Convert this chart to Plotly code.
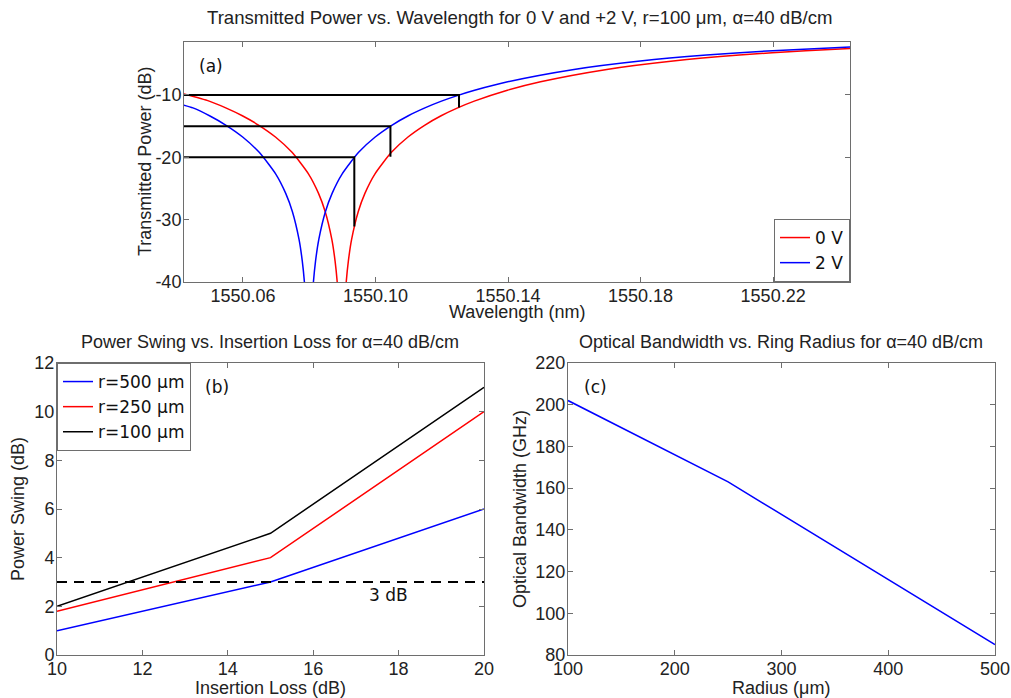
import plotly.graph_objects as go

W, H = 1011, 698

# ---------------- data (a) ----------------
red_wl = [1550.0418, 1550.0498, 1550.0548, 1550.0598, 1550.0648, 1550.0698, 1550.0748,
          1550.0798, 1550.0828, 1550.0848, 1550.0868, 1550.0878, 1550.0885, 1550.0890,
          1550.0906, 1550.0911, 1550.0918, 1550.0928, 1550.0948, 1550.0968, 1550.0998,
          1550.1048, 1550.1098, 1550.1148, 1550.1198, 1550.1248, 1550.1298, 1550.1398,
          1550.1498, 1550.1698, 1550.1898, 1550.2098, 1550.2298, 1550.2448]
red_db = [-9.80, -10.99, -12.07, -13.33, -14.86, -16.74, -19.20, -22.69, -25.78, -28.69,
          -33.13, -36.65, -40.39, -44.61, -44.61, -40.39, -36.65, -33.13, -28.69, -25.78,
          -22.69, -19.20, -16.74, -14.86, -13.33, -12.07, -10.99, -9.24, -7.88, -5.90,
          -4.55, -3.59, -2.89, -2.48]
blue_wl = [1550.0419, 1550.0449, 1550.0499, 1550.0549, 1550.0599, 1550.0649, 1550.0699,
           1550.0729, 1550.0749, 1550.0769, 1550.0779, 1550.0786, 1550.0791, 1550.0807,
           1550.0812, 1550.0819, 1550.0829, 1550.0849, 1550.0869, 1550.0899, 1550.0949,
           1550.0999, 1550.1049, 1550.1099, 1550.1149, 1550.1199, 1550.1249, 1550.1299,
           1550.1399, 1550.1599, 1550.1799, 1550.1999, 1550.2199, 1550.2449]
blue_db = [-11.60, -12.07, -13.33, -14.86, -16.74, -19.20, -22.69, -25.78, -28.69, -33.13,
           -36.65, -40.39, -44.61, -44.61, -40.39, -36.65, -33.13, -28.69, -25.78, -22.69,
           -19.20, -16.74, -14.86, -13.33, -12.07, -10.99, -10.06, -9.24, -7.88, -5.90,
           -4.55, -3.59, -2.89, -2.25]
levels_db = [-10, -15, -20]
cross_wl = [1550.1252, 1550.1045, 1550.0936]
red_at_cross_db = [-12.0, -19.9, -31.1]
xa_range = [1550.0422, 1550.2432]
ya_range = [-40, -1.5]
xa_ticks = [1550.06, 1550.10, 1550.14, 1550.18, 1550.22]
xa_ticktext = ["1550.06", "1550.10", "1550.14", "1550.18", "1550.22"]
ya_ticks = [-40, -30, -20, -10]
ya_ticktext = ["-40", "-30", "-20", "-10"]

# ---------------- data (b) ----------------
insertion_loss = [10, 15, 20]
swing_r500 = [1.0, 3.0, 6.0]
swing_r250 = [1.8, 4.0, 10.0]
swing_r100 = [2.0, 5.0, 11.0]
swing_3db = 3

# ---------------- data (c) ----------------
radius_um = [100, 250, 500]
bandwidth_ghz = [202, 163, 85]


def px(x):
    return x / W


def py(y):
    return 1 - y / H


TICKF = dict(family="Liberation Sans, Arial, sans-serif", size=18, color="#222222")
LABF = dict(family="Liberation Sans, Arial, sans-serif", size=18, color="#222222")
TITF = dict(family="Liberation Sans, Arial, sans-serif", size=18.6, color="#222222")
TAHF = dict(family="DejaVu Sans, Tahoma, sans-serif", size=17, color="#111111")

fig = go.Figure()

# (a) curves
fig.add_trace(go.Scatter(x=red_wl, y=red_db, mode="lines", name="0 V",
                         line=dict(color="#ff0000", width=1.5, shape="spline", smoothing=0.6),
                         xaxis="x", yaxis="y", legend="legend"))
fig.add_trace(go.Scatter(x=blue_wl, y=blue_db, mode="lines", name="2 V",
                         line=dict(color="#0000ff", width=1.5, shape="spline", smoothing=0.6),
                         xaxis="x", yaxis="y", legend="legend"))
bx, by = [], []
for lv, cw, rd in zip(levels_db, cross_wl, red_at_cross_db):
    bx += [xa_range[0], cw, cw, None]
    by += [lv, lv, rd, None]
fig.add_trace(go.Scatter(x=bx, y=by, mode="lines", showlegend=False,
                         line=dict(color="#000000", width=2),
                         xaxis="x", yaxis="y"))

# (b)
fig.add_trace(go.Scatter(x=insertion_loss, y=swing_r500, mode="lines", name="r=500 \u03bcm",
                         line=dict(color="#0000ff", width=1.5), xaxis="x2", yaxis="y2",
                         legend="legend2"))
fig.add_trace(go.Scatter(x=insertion_loss, y=swing_r250, mode="lines", name="r=250 \u03bcm",
                         line=dict(color="#ff0000", width=1.5), xaxis="x2", yaxis="y2",
                         legend="legend2"))
fig.add_trace(go.Scatter(x=insertion_loss, y=swing_r100, mode="lines", name="r=100 \u03bcm",
                         line=dict(color="#000000", width=1.5), xaxis="x2", yaxis="y2",
                         legend="legend2"))
fig.add_trace(go.Scatter(x=[insertion_loss[0], insertion_loss[-1]], y=[swing_3db, swing_3db],
                         mode="lines", showlegend=False,
                         line=dict(color="#000000", width=2, dash="10px,7px"),
                         xaxis="x2", yaxis="y2"))

# (c)
fig.add_trace(go.Scatter(x=radius_um, y=bandwidth_ghz, mode="lines", showlegend=False,
                         line=dict(color="#0000ff", width=1.5), xaxis="x3", yaxis="y3"))


def axis(domain, rng, tickvals, ticktext=None, anchor=None, standoff=0):
    d = dict(domain=domain, range=rng, tickvals=tickvals, showgrid=False, zeroline=False,
             showline=True, mirror="ticks", linecolor="#6e6e6e", linewidth=1,
             ticks="inside", ticklen=5, tickcolor="#6e6e6e", tickfont=TICKF,
             anchor=anchor, fixedrange=True, automargin=False,
             ticklabelstandoff=standoff)
    if ticktext is not None:
        d["ticktext"] = ticktext
    return d


xa_dom = [px(184), px(850)]
ya_dom = [py(282), py(42)]
xb_dom = [px(57), px(484)]
yb_dom = [py(655), py(363)]
xc_dom = [px(568), px(995)]
yc_dom = [py(655), py(363)]

fig.update_layout(
    width=W, height=H,
    margin=dict(l=0, r=0, t=0, b=0, autoexpand=False),
    paper_bgcolor="white", plot_bgcolor="white",
    xaxis=axis(xa_dom, xa_range, xa_ticks, xa_ticktext, "y", -3),
    yaxis=axis(ya_dom, ya_range, ya_ticks, ya_ticktext, "x", -2),
    xaxis2=axis(xb_dom, [10, 20], [10, 12, 14, 16, 18, 20], None, "y2", -3),
    yaxis2=axis(yb_dom, [0, 12], [0, 2, 4, 6, 8, 10, 12], None, "x2", -2),
    xaxis3=axis(xc_dom, [100, 500], [100, 200, 300, 400, 500], None, "y3", -3),
    yaxis3=axis(yc_dom, [80, 220], [80, 100, 120, 140, 160, 180, 200, 220], None, "x3", -2),
    legend=dict(x=px(850), y=py(282), xanchor="right", yanchor="bottom",
                bgcolor="white", bordercolor="#6e6e6e", borderwidth=1,
                font=TAHF, itemwidth=30, tracegroupgap=0),
    legend2=dict(x=px(57), y=py(363), xanchor="left", yanchor="top",
                 bgcolor="white", bordercolor="#6e6e6e", borderwidth=1,
                 font=TAHF, itemwidth=30, tracegroupgap=0),
    showlegend=True,
)

ann = []


def text(x, y, s, font, angle=0):
    ann.append(dict(x=px(x), y=py(y), xref="paper", yref="paper", text=s, showarrow=False,
                    font=font, textangle=angle, xanchor="center", yanchor="middle"))


text(520, 18, "Transmitted Power vs. Wavelength for 0 V and +2 V, r=100 \u03bcm, \u03b1=40 dB/cm", TITF)
text(517, 312, "Wavelength (nm)", LABF)
text(145, 162, "Transmitted Power (dB)", LABF, -90)
text(211, 66, "(a)", TAHF)

text(270, 342, "Power Swing vs. Insertion Loss for \u03b1=40 dB/cm", LABF)
text(270, 688, "Insertion Loss (dB)", LABF)
text(18, 509, "Power Swing (dB)", LABF, -90)
text(217, 387, "(b)", TAHF)
text(388, 595, "3 dB", TAHF)

text(781, 342, "Optical Bandwidth vs. Ring Radius for \u03b1=40 dB/cm", LABF)
text(781, 688, "Radius (\u03bcm)", LABF)
text(520, 509, "Optical Bandwidth (GHz)", LABF, -90)
text(595, 387, "(c)", TAHF)

fig.update_layout(annotations=ann)

fig.write_html("out.html")
